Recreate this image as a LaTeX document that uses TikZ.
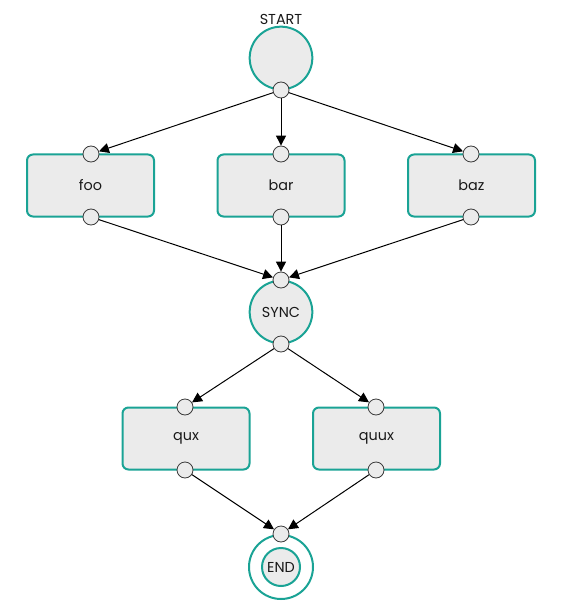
\documentclass[tikz,border=0pt]{standalone}
\usepackage{fontspec}
\setmainfont{Poppins}
\usetikzlibrary{arrows.meta}
\definecolor{tealc}{HTML}{1AA395}
\definecolor{fillg}{HTML}{EBEBEB}
\definecolor{portc}{HTML}{3A3A3A}
\begin{document}
\begin{tikzpicture}[x=0.75pt,y=-0.75pt,
  every node/.style={font=\fontsize{10.8}{12}\selectfont, text=black!90},
  taskbox/.style={draw=tealc, fill=fillg, line width=1.5pt, rounded corners=4.5pt,
    minimum width=95.25pt, minimum height=46.5pt, inner sep=0pt},
  statec/.style={circle, draw=tealc, fill=fillg, line width=1.5pt, minimum size=47pt, inner sep=0pt},
  endouter/.style={circle, draw=tealc, fill=white, line width=1.5pt, minimum size=48pt, inner sep=0pt},
  endinner/.style={circle, draw=tealc, fill=fillg, line width=1.5pt, minimum size=28.5pt, inner sep=0pt},
  port/.style={circle, draw=portc, fill=fillg, line width=0.6pt, minimum size=12pt, inner sep=0pt},
  flow/.style={draw=black, line width=0.75pt, -{Triangle[length=7.5pt,width=7.5pt]}, shorten >=0pt}
]
\useasboundingbox (0,0) rectangle (562,602);

% states
\node (startlbl) at (281,19) {START};
\node[statec] (start) at (281,58) {};
\node[statec] (sync) at (281,312) {SYNC};
\node[endouter] (endo) at (281,567) {};
\node[endinner] (endi) at (281,567) {END};

% tasks
\node[taskbox] (foo) at (90.5,185.5) {foo};
\node[taskbox] (bar) at (281,185.5) {bar};
\node[taskbox] (baz) at (471.5,185.5) {baz};
\node[taskbox] (qux) at (186,438.5) {qux};
\node[taskbox] (quux) at (376.5,438.5) {quux};

% ports
\node[port] (startout) at (281,90) {};
\node[port] (fooin) at (91,154) {};
\node[port] (fooout) at (91,217) {};
\node[port] (barin) at (281,154) {};
\node[port] (barout) at (281,217) {};
\node[port] (bazin) at (471,154) {};
\node[port] (bazout) at (471,217) {};
\node[port] (syncin) at (281,280) {};
\node[port] (syncout) at (281,344) {};
\node[port] (quxin) at (185,407) {};
\node[port] (quxout) at (185,470) {};
\node[port] (quuxin) at (376,407) {};
\node[port] (quuxout) at (376,470) {};
\node[port] (endin) at (281,534) {};

% connectors
\draw[flow] (startout) -- (fooin);
\draw[flow] (startout) -- (barin);
\draw[flow] (startout) -- (bazin);
\draw[flow] (fooout) -- (syncin);
\draw[flow] (barout) -- (syncin);
\draw[flow] (bazout) -- (syncin);
\draw[flow] (syncout) -- (quxin);
\draw[flow] (syncout) -- (quuxin);
\draw[flow] (quxout) -- (endin);
\draw[flow] (quuxout) -- (endin);
\end{tikzpicture}
\end{document}
